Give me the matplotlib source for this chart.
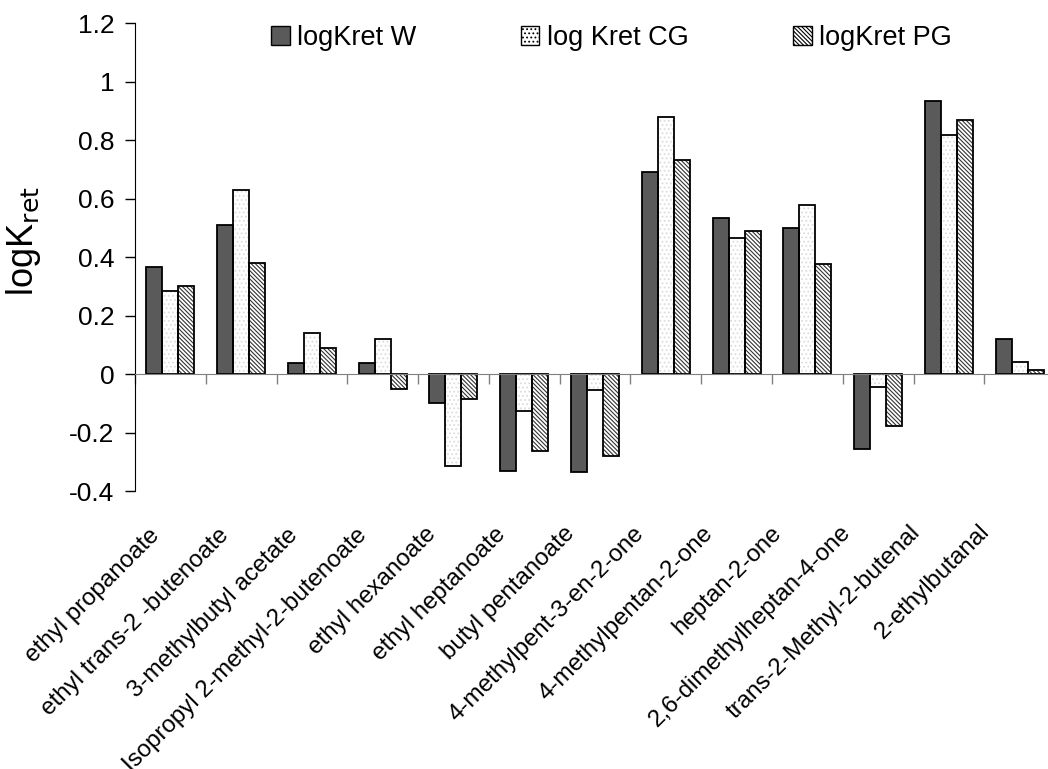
import matplotlib
matplotlib.use('Agg')
import matplotlib.pyplot as plt
import numpy as np

# ---------------------------------------------------------------------------
# Data
# ---------------------------------------------------------------------------

COMPOUNDS = [
    "ethyl propanoate", "ethyl trans-2 -butenoate", "3-methylbutyl acetate",
    "Isopropyl 2-methyl-2-butenoate", "ethyl hexanoate", "ethyl heptanoate",
    "butyl pentanoate", "4-methylpent-3-en-2-one", "4-methylpentan-2-one",
    "heptan-2-one", "2,6-dimethylheptan-4-one", "trans-2-Methyl-2-butenal",
    "2-ethylbutanal",
]
LOGK_W = [0.365, 0.508, 0.036, 0.037, -0.100, -0.332, -0.336, 0.691, 0.533,
          0.500, -0.258, 0.935, 0.120]
LOGK_CG = [0.285, 0.629, 0.140, 0.119, -0.313, -0.125, -0.055, 0.878, 0.464,
           0.578, -0.043, 0.818, 0.040]
LOGK_PG = [0.302, 0.381, 0.088, -0.051, -0.085, -0.263, -0.279, 0.733, 0.489,
           0.376, -0.177, 0.869, 0.013]
SERIES_LABELS = ["logKret W", "log Kret CG", "logKret PG"]

plt.rcParams['font.family'] = ['Liberation Sans', 'DejaVu Sans']
plt.rcParams['hatch.linewidth'] = 0.8

fig = plt.figure(figsize=(10.48, 7.69), dpi=100)
ax = fig.add_axes([0.1288, 0.3615, 0.878, 0.6085])

x = np.arange(len(COMPOUNDS))
w = 0.226
styles = [
    dict(face="#5a5a5a", hatch=None, hcol=None),
    dict(face="#ffffff", hatch="....", hcol="#dcdcdc"),
    dict(face="#ffffff", hatch="\\" * 8, hcol="#333333"),
]
handles = []
for i, (vals, st) in enumerate(zip([LOGK_W, LOGK_CG, LOGK_PG], styles)):
    pos = x + (i - 1) * w
    if st["hatch"]:
        ax.bar(pos, vals, w, color=st["face"], hatch=st["hatch"],
               edgecolor=st["hcol"], linewidth=0, zorder=2)
    else:
        ax.bar(pos, vals, w, color=st["face"], linewidth=0, zorder=2)
    ax.bar(pos, vals, w, fill=False, edgecolor="black", linewidth=1.3, zorder=3)
    handles.append(plt.Rectangle((0, 0), 1, 1, facecolor=st["face"],
                                 hatch=st["hatch"], edgecolor="black",
                                 linewidth=1.0))

ax.set_xlim(-0.5, len(COMPOUNDS) - 0.5)
ax.set_ylim(-0.4, 1.2)
ax.set_yticks(np.arange(-0.4, 1.21, 0.2))
ax.set_yticklabels(["-0.4", "-0.2", "0", "0.2", "0.4", "0.6", "0.8", "1", "1.2"])
ax.tick_params(axis='y', labelsize=19, direction='out', length=7, width=1,
               pad=8)

# x axis sits on y = 0, ticks between categories
ax.spines['top'].set_visible(False)
ax.spines['right'].set_visible(False)
ax.spines['bottom'].set_position(('data', 0))
ax.spines['bottom'].set_color('#808080')
ax.spines['bottom'].set_zorder(4)
ax.set_xticks(np.arange(len(COMPOUNDS) + 1) - 0.5)
ax.set_xticklabels([])
ax.tick_params(axis='x', direction='out', length=7, width=1, colors='#808080')

# category labels below the plot, slightly tighter spacing than the bars
for xi, name in zip(x, COMPOUNDS):
    ax.annotate(name, xy=(xi, -0.4), xycoords='data',
                xytext=(-10 - 1.2 * xi, -30 + 0.25 * xi),
                textcoords='offset points',
                rotation=45, ha='right', va='center', rotation_mode='anchor',
                fontsize=17.4, annotation_clip=False)

ax.set_ylabel(r"logK$_{\mathrm{ret}}$", fontsize=26)
ax.yaxis.set_label_coords(-0.100, 0.534)

fig.legend(handles, SERIES_LABELS, loc='center left',
           bbox_to_anchor=(0.2586, 0.951), ncol=3, frameon=False,
           fontsize=19.5, handlelength=0.7, handleheight=0.7,
           handletextpad=0.26, columnspacing=3.85, borderaxespad=0,
           borderpad=0)

fig.savefig("out.png", dpi=100)
